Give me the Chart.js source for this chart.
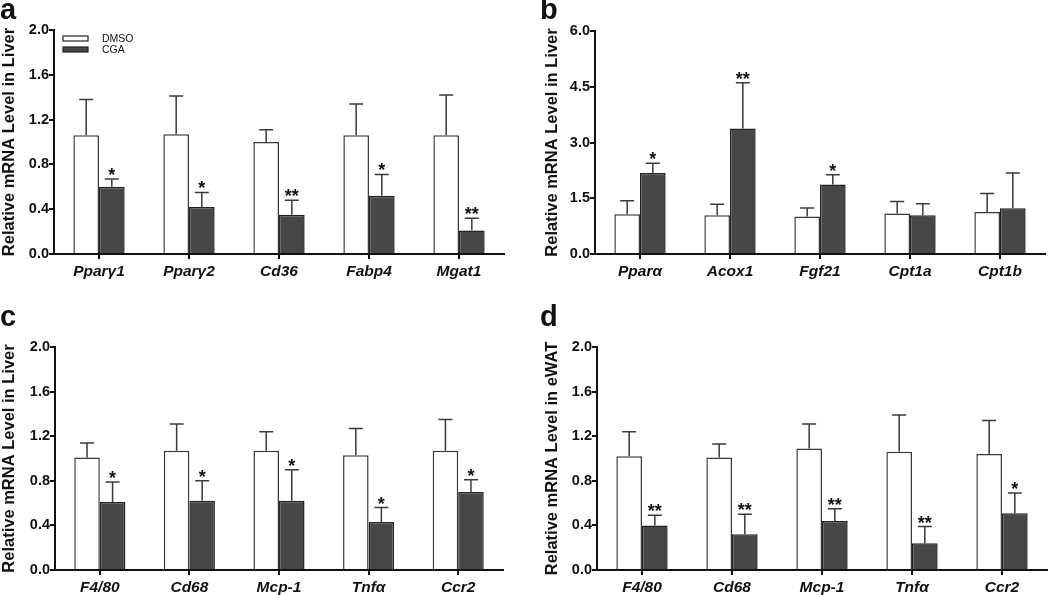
<!DOCTYPE html>
<html>
<head>
<meta charset="utf-8">
<script src="https://cdn.jsdelivr.net/npm/chart.js@4.4.0/dist/chart.umd.min.js"></script>
<style>
  body { margin: 0; background: #fff; width: 1050px; height: 595px; position: relative; overflow: hidden; font-family: "Liberation Sans", Arial, sans-serif; }
  canvas { position: absolute; }
  .letter { position: absolute; font-weight: bold; font-size: 29px; line-height: 1; color: #111; }
</style>
</head>
<body>
<canvas id="panelA" width="525" height="300" style="left:0;top:0"></canvas>
<canvas id="panelB" width="525" height="300" style="left:525px;top:0"></canvas>
<canvas id="panelC" width="525" height="295" style="left:0;top:300px"></canvas>
<canvas id="panelD" width="525" height="295" style="left:525px;top:300px"></canvas>
<div class="letter" style="left:0;top:-5px">a</div>
<div class="letter" style="left:540px;top:-5px">b</div>
<div class="letter" style="left:0;top:302px">c</div>
<div class="letter" style="left:540px;top:302px">d</div>
<script>
const seriesNames = ['DMSO', 'CGA'];

// a: lipogenesis genes, liver
const genesA = ['Pparγ1', 'Pparγ2', 'Cd36', 'Fabp4', 'Mgat1'];
const dmsoA = [1.06, 1.07, 1.00, 1.06, 1.06];
const dmsoErrA = [0.32, 0.34, 0.11, 0.28, 0.36];
const cgaA = [0.60, 0.42, 0.35, 0.52, 0.21];
const cgaErrA = [0.07, 0.13, 0.13, 0.19, 0.11];
const sigA = ['*', '*', '**', '*', '**'];

// b: fatty acid oxidation genes, liver
const genesB = ['Pparα', 'Acox1', 'Fgf21', 'Cpt1a', 'Cpt1b'];
const dmsoB = [1.07, 1.04, 1.01, 1.09, 1.13];
const dmsoErrB = [0.36, 0.30, 0.23, 0.32, 0.50];
const cgaB = [2.18, 3.38, 1.87, 1.04, 1.23];
const cgaErrB = [0.26, 1.23, 0.26, 0.31, 0.95];
const sigB = ['*', '**', '*', '', ''];

// c: inflammation genes, liver
const genesC = ['F4/80', 'Cd68', 'Mcp-1', 'Tnfα', 'Ccr2'];
const dmsoC = [1.01, 1.07, 1.07, 1.03, 1.07];
const dmsoErrC = [0.13, 0.24, 0.17, 0.24, 0.28];
const cgaC = [0.61, 0.62, 0.62, 0.43, 0.70];
const cgaErrC = [0.18, 0.18, 0.28, 0.13, 0.11];
const sigC = ['*', '*', '*', '*', '*'];

// d: inflammation genes, eWAT
const genesD = ['F4/80', 'Cd68', 'Mcp-1', 'Tnfα', 'Ccr2'];
const dmsoD = [1.02, 1.01, 1.09, 1.06, 1.04];
const dmsoErrD = [0.22, 0.12, 0.22, 0.33, 0.30];
const cgaD = [0.40, 0.32, 0.44, 0.24, 0.51];
const cgaErrD = [0.09, 0.18, 0.11, 0.15, 0.18];
const sigD = ['**', '**', '**', '**', '*'];

const ticksSmall = [0.0, 0.4, 0.8, 1.2, 1.6, 2.0];
const ticksLarge = [0.0, 1.5, 3.0, 4.5, 6.0];

const FONT = '"Liberation Sans", Arial, sans-serif';
const AXIS = '#111';

// upward-only error bars with caps, plus significance stars
const errorBars = {
  id: 'errorBars',
  afterDatasetsDraw(chart) {
    const ctx = chart.ctx;
    const y = chart.scales.y;
    chart.data.datasets.forEach((ds, i) => {
      chart.getDatasetMeta(i).data.forEach((bar, j) => {
        const top = y.getPixelForValue(ds.data[j] + ds.err[j]);
        ctx.save();
        ctx.strokeStyle = '#3a3a3a';
        ctx.lineWidth = 1.5;
        ctx.beginPath();
        ctx.moveTo(bar.x, bar.y);
        ctx.lineTo(bar.x, top);
        ctx.moveTo(bar.x - 7, top);
        ctx.lineTo(bar.x + 7, top);
        ctx.stroke();
        if (ds.sig && ds.sig[j]) {
          ctx.fillStyle = '#111';
          ctx.font = 'bold 18px ' + FONT;
          ctx.textAlign = 'center';
          ctx.textBaseline = 'alphabetic';
          ctx.fillText(ds.sig[j], bar.x, top + 2);
        }
        ctx.restore();
      });
    });
  }
};

// small legend in the top-left corner of panel a
const cornerLegend = {
  id: 'cornerLegend',
  afterDraw(chart) {
    const ctx = chart.ctx;
    const area = chart.chartArea;
    chart.data.datasets.forEach((ds, i) => {
      const bx = area.left + 9, by = area.top + 6 + i * 11;
      ctx.save();
      ctx.fillStyle = ds.backgroundColor;
      ctx.strokeStyle = '#222';
      ctx.lineWidth = 1.2;
      ctx.fillRect(bx, by, 25, 5);
      ctx.strokeRect(bx, by, 25, 5);
      ctx.fillStyle = '#111';
      ctx.font = '10.5px ' + FONT;
      ctx.textBaseline = 'middle';
      ctx.fillText(ds.label, bx + 39, by + 3);
      ctx.restore();
    });
  }
};

function makePanel(id, genes, dmso, dmsoErr, cga, cgaErr, sig, ticks, title, pad, yWidth, xHeight, withLegend) {
  const plugins = [errorBars];
  if (withLegend) plugins.push(cornerLegend);
  return new Chart(id, {
    type: 'bar',
    data: {
      labels: genes,
      datasets: [{
        label: seriesNames[0],
        data: dmso,
        err: dmsoErr,
        backgroundColor: '#ffffff',
        borderColor: '#3a3a3a',
        borderWidth: 1.5
      }, {
        label: seriesNames[1],
        data: cga,
        err: cgaErr,
        sig: sig,
        backgroundColor: '#474747',
        borderColor: '#222',
        borderWidth: 1.5
      }]
    },
    options: {
      responsive: false,
      animation: false,
      layout: { padding: pad },
      plugins: { legend: { display: false }, tooltip: { enabled: false } },
      datasets: { bar: { categoryPercentage: 0.57, barPercentage: 1.0 } },
      scales: {
        x: {
          grid: { drawOnChartArea: false, offset: false, tickLength: 5, color: AXIS, lineWidth: 2 },
          border: { color: AXIS, width: 2 },
          ticks: { color: '#111', padding: 3, maxRotation: 0, font: { family: FONT, size: 15.5, weight: 'bold', style: 'italic' } },
          afterFit: s => { s.height = xHeight; }
        },
        y: {
          min: ticks[0],
          max: ticks[ticks.length - 1],
          afterBuildTicks: s => { s.ticks = ticks.map(v => ({ value: v })); },
          grid: { drawOnChartArea: false, tickLength: 5, color: AXIS, lineWidth: 2 },
          border: { color: AXIS, width: 2 },
          ticks: { color: '#111', padding: 0, callback: v => v.toFixed(1), font: { family: FONT, size: 14.5, weight: 'bold' } },
          title: { display: true, text: title, color: '#111', padding: { top: 0, bottom: 0 }, font: { family: FONT, size: 16.5, weight: 'bold' } },
          afterFit: s => { s.width = yWidth; }
        }
      }
    },
    plugins: plugins
  });
}

makePanel('panelA', genesA, dmsoA, dmsoErrA, cgaA, cgaErrA, sigA, ticksSmall,
  'Relative mRNA Level in Liver', { left: 0, top: 30, right: 21, bottom: 0 }, 54, 46, true);
makePanel('panelB', genesB, dmsoB, dmsoErrB, cgaB, cgaErrB, sigB, ticksLarge,
  'Relative mRNA Level in Liver', { left: 18, top: 31, right: 5, bottom: 0 }, 52, 46, false);
makePanel('panelC', genesC, dmsoC, dmsoErrC, cgaC, cgaErrC, sigC, ticksSmall,
  'Relative mRNA Level in Liver', { left: 0, top: 47, right: 22, bottom: 0 }, 55, 25, false);
makePanel('panelD', genesD, dmsoD, dmsoErrD, cgaD, cgaErrD, sigD, ticksSmall,
  'Relative mRNA Level in eWAT', { left: 18, top: 47, right: 3, bottom: 0 }, 54, 25, false);
</script>
</body>
</html>
